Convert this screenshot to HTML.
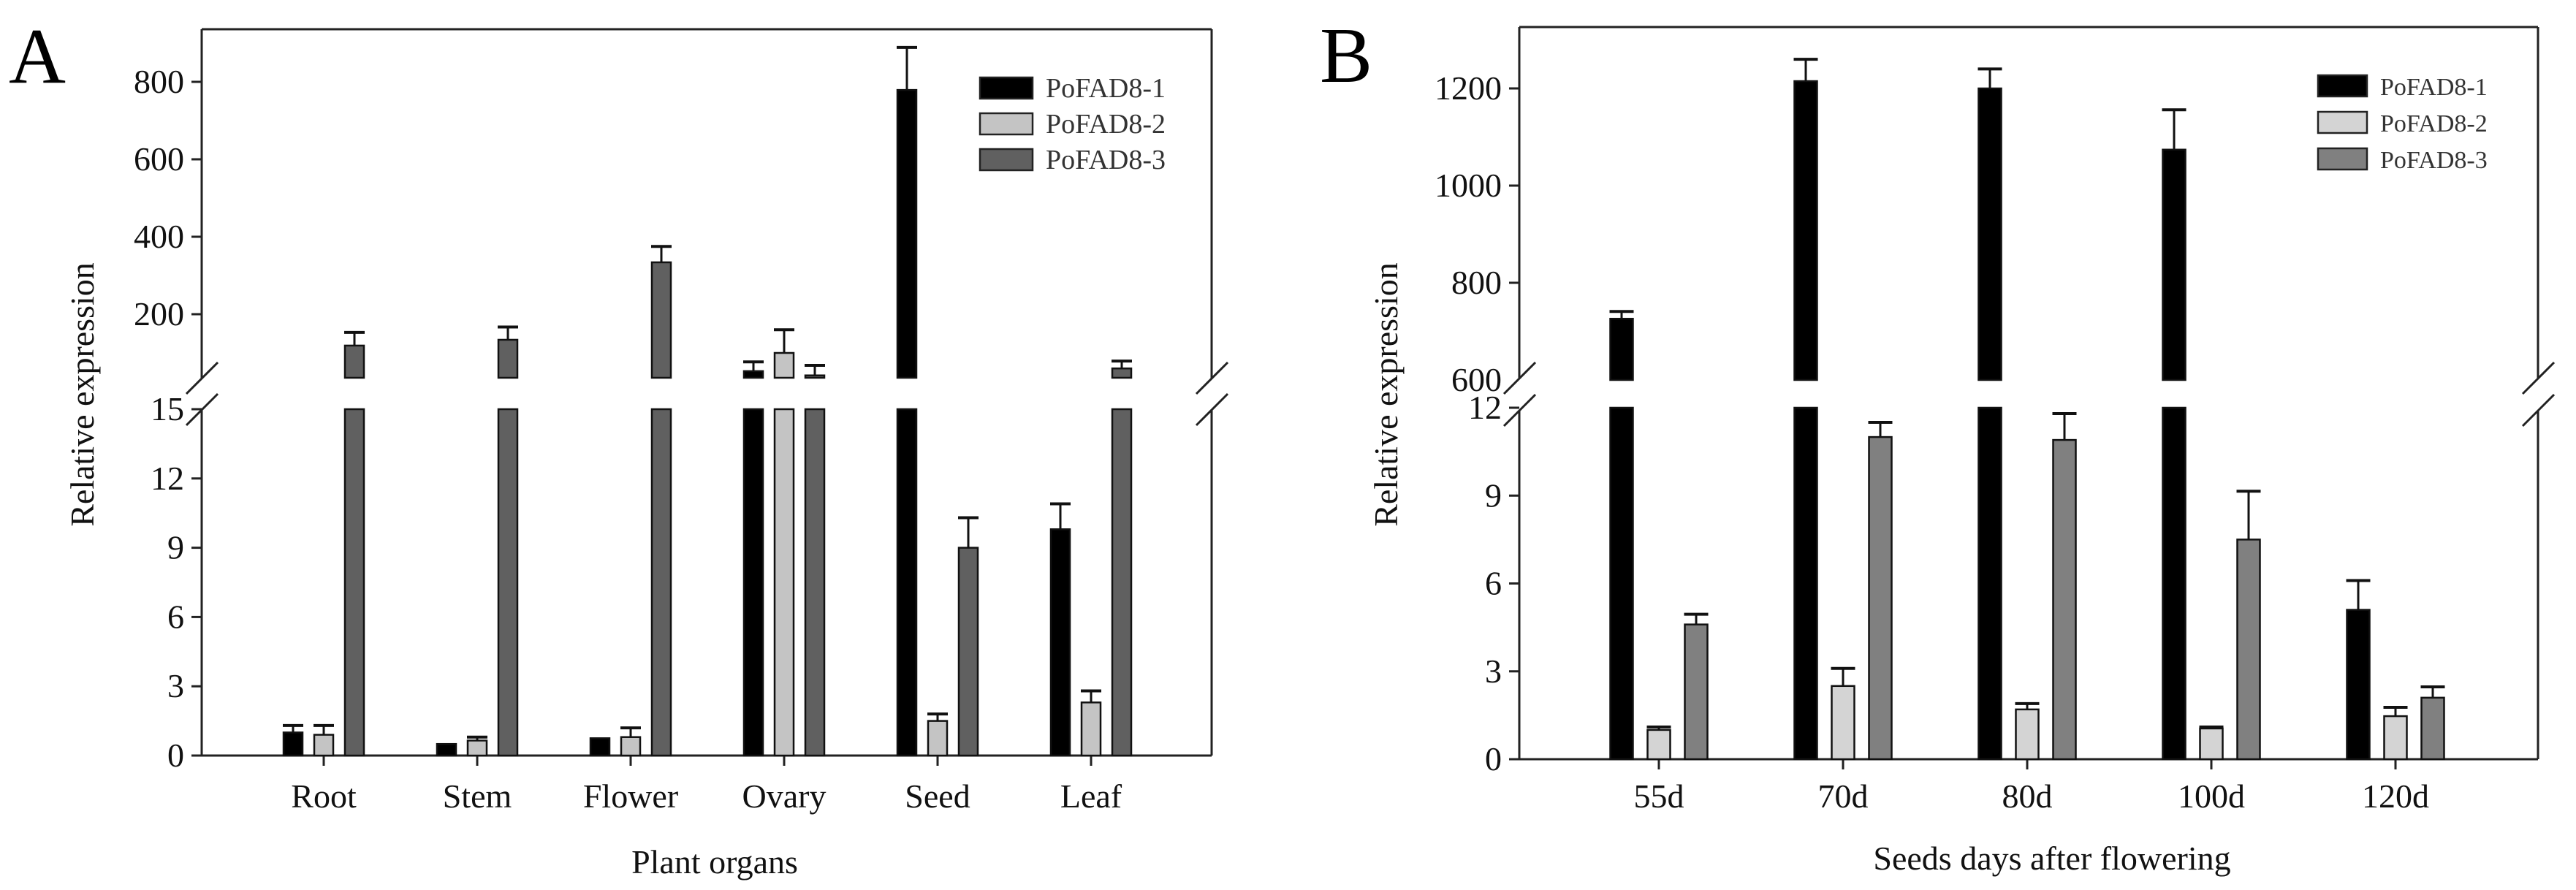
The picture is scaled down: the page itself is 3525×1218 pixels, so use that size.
<!DOCTYPE html>
<html><head><meta charset="utf-8"><style>
html,body{margin:0;padding:0;background:#fff;}
svg{display:block;font-family:"Liberation Serif",serif;}
</style></head><body>
<svg id="fig" width="3525" height="1218" viewBox="0 0 3525 1218" xmlns="http://www.w3.org/2000/svg"></svg>
<script>
// ---- Panel A data ----
const catsA = ["Root","Stem","Flower","Ovary","Seed","Leaf"];
const seriesNames = ["PoFAD8-1","PoFAD8-2","PoFAD8-3"];
const a1 = [1.0, 0.5, 0.75, 53, 779, 9.8];
const a1err = [1.3, 0.5, 0.75, 77, 889, 10.9];
const a2 = [0.9, 0.65, 0.8, 100, 1.5, 2.3];
const a2err = [1.3, 0.8, 1.2, 160, 1.8, 2.8];
const a3 = [119, 134, 334, 42, 9.0, 60];
const a3err = [153, 167, 375, 68, 10.3, 79];
const ticksAlow = [0,3,6,9,12,15];
const ticksAhigh = [200,400,600,800];
// ---- Panel B data ----
const catsB = ["55d","70d","80d","100d","120d"];
const b1 = [726, 1215, 1200, 1074, 5.1];
const b1err = [741, 1260, 1240, 1156, 6.1];
const b2 = [1.0, 2.5, 1.7, 1.05, 1.47];
const b2err = [1.1, 3.1, 1.9, 1.1, 1.77];
const b3 = [4.6, 11.0, 10.9, 7.5, 2.1];
const b3err = [4.95, 11.5, 11.8, 9.15, 2.47];
const ticksBlow = [0,3,6,9,12];
const ticksBhigh = [600,800,1000,1200];

const NS="http://www.w3.org/2000/svg";
const svg=document.getElementById('fig');
function mk(tag,attrs,parent){const e=document.createElementNS(NS,tag);for(const k in attrs)e.setAttribute(k,attrs[k]);(parent||svg).appendChild(e);return e;}
function txt(x,y,s,size,anchor,parent,extra){const t=mk('text',Object.assign({x:x,y:y,'font-size':size,'text-anchor':anchor||'middle',fill:'#111'},extra||{}),parent);t.textContent=s;return t;}

function panel(cfg){
  const g=mk('g',{});
  
  
  const L=cfg.left,R=cfg.right,T=cfg.top,B=cfg.bottom;
  // scales
  const yLow=v=>B-(v-cfg.lowMin)/(cfg.lowMax-cfg.lowMin)*(B-cfg.lowTop);
  const yHigh=v=>cfg.hZeroY-(v-cfg.hMin)*cfg.hScale;
  const isHigh=v=>v>cfg.lowMax;
  const xC=i=>cfg.x0+i*cfg.dx;
  // frame lines
  const fr=mk('g',{stroke:'#222','stroke-width':3,fill:'none'},g);
  
  
  mk('line',{x1:L,y1:T,x2:R,y2:T},fr);
  mk('line',{x1:L,y1:T,x2:L,y2:cfg.breakTop},fr);
  mk('line',{x1:L,y1:cfg.breakBot,x2:L,y2:B},fr);
  mk('line',{x1:R,y1:T,x2:R,y2:cfg.breakTop},fr);
  mk('line',{x1:R,y1:cfg.breakBot,x2:R,y2:B},fr);
  mk('line',{x1:L-14,y1:B,x2:R,y2:B},fr);
  // break marks
  [L,R].forEach(xx=>{
    const bm=mk('g',{stroke:'#222','stroke-width':3},g);
    
    
    mk('line',{x1:xx-21,y1:cfg.breakTop+22,x2:xx+22,y2:cfg.breakTop-21},bm);
    mk('line',{x1:xx-21,y1:cfg.breakBot+21,x2:xx+22,y2:cfg.breakBot-22},bm);
  });
  // y ticks
  cfg.ticksLow.forEach(v=>{const y=yLow(v);
    mk('line',{x1:L-14,y1:y,x2:L,y2:y,stroke:'#222','stroke-width':3},g);
    const t=txt(L-24,y+15,String(v),46,'end',g);
    
    
  });
  cfg.ticksHigh.forEach(v=>{const y=yHigh(v);
    if(v!==cfg.hMin) mk('line',{x1:L-14,y1:y,x2:L,y2:y,stroke:'#222','stroke-width':3},g);
    const t=txt(L-24,y+15,String(v),46,'end',g);
    
    
  });
  // x ticks & labels
  cfg.cats.forEach((c,i)=>{const x=xC(i);
    mk('line',{x1:x,y1:B,x2:x,y2:B+14,stroke:'#222','stroke-width':3},g);
    const t=txt(x,cfg.catY,c,46,'middle',g);
    
    
  });
  // bars
  const cols=cfg.colors;
  cfg.series.forEach((s,si)=>{
    s.vals.forEach((v,i)=>{
      const cx=xC(i)+(si-1)*cfg.off, w=cfg.bw, x=cx-w/2;
      const e=s.errs[i];
      const bar=mk('g',{},g);
      
      
      const st={fill:cols[si],stroke:'#111','stroke-width':2.5};
      if(isHigh(v)){
        mk('rect',Object.assign({x:x,y:cfg.lowTop,width:w,height:B-cfg.lowTop},st),bar);
        const yt=yHigh(v);
        mk('rect',Object.assign({x:x,y:yt,width:w,height:cfg.hBarBot-yt},st),bar);
        if(e>v){const ye=yHigh(e);
          mk('line',{x1:cx,y1:yt,x2:cx,y2:ye,stroke:'#111','stroke-width':3},bar);
          mk('line',{x1:cx-w/2-1,y1:ye,x2:cx+w/2+1,y2:ye,stroke:'#111','stroke-width':4},bar);}
      } else {
        const yt=yLow(v);
        mk('rect',Object.assign({x:x,y:yt,width:w,height:B-yt},st),bar);
        if(e>v){const ye=yLow(e);
          mk('line',{x1:cx,y1:yt,x2:cx,y2:ye,stroke:'#111','stroke-width':3},bar);
          mk('line',{x1:cx-w/2-1,y1:ye,x2:cx+w/2+1,y2:ye,stroke:'#111','stroke-width':4},bar);}
      }
    });
  });
  // legend
  const lg=mk('g',{},g);
  
  
  seriesNames.forEach((n,si)=>{
    const y=cfg.legY+si*cfg.legDy;
    const en=mk('g',{},lg);
    
    
    mk('rect',{x:cfg.legX,y:y,width:cfg.legW,height:29,fill:cols[si],stroke:'#222','stroke-width':2.5},en);
    txt(cfg.legX+cfg.legW+18,y+27,n,cfg.legFont,'start',en,{'fill':'#333'});
  });
  // titles
  const yt=txt(cfg.ytX,cfg.ytY,'Relative expression',46,'middle',g,{transform:'rotate(-90 '+cfg.ytX+' '+cfg.ytY+')'});
  
  
  const xt=txt(cfg.xtX,cfg.xtY,cfg.xTitle,46,'middle',g);
  
  
  const pl=txt(cfg.plX,cfg.plY,cfg.letter,108,'start',g,{fill:'#000'});
  
  
}

panel({name:'panel-a',letter:'A',plX:12,plY:113,left:276,right:1658,top:40,bottom:1034,
  breakTop:517,breakBot:561,lowMin:0,lowMax:15,lowTop:560,
  hMin:0,hZeroY:536,hScale:0.53,hBarBot:517,
  ticksLow:ticksAlow,ticksHigh:ticksAhigh,cats:catsA,x0:443,dx:210,off:42,bw:26,catY:1105,
  colors:['#000000','#c4c4c4','#606060'],
  series:[{vals:a1,errs:a1err},{vals:a2,errs:a2err},{vals:a3,errs:a3err}],
  legX:1341,legY:106,legDy:49,legW:72,legFont:38,
  ytX:128,ytY:540,xtX:978,xtY:1195,xTitle:'Plant organs'});

panel({name:'panel-b',letter:'B',plX:1806,plY:112,left:2079,right:3473,top:37,bottom:1039,
  breakTop:517,breakBot:562,lowMin:0,lowMax:12,lowTop:558,
  hMin:600,hZeroY:520,hScale:0.665,hBarBot:520,
  ticksLow:ticksBlow,ticksHigh:ticksBhigh,cats:catsB,x0:2270,dx:252,off:51,bw:31,catY:1105,
  colors:['#000000','#d4d4d4','#808080'],
  series:[{vals:b1,errs:b1err},{vals:b2,errs:b2err},{vals:b3,errs:b3err}],
  legX:3172,legY:103,legDy:50,legW:67,legFont:34,
  ytX:1912,ytY:540,xtX:2808,xtY:1190,xTitle:'Seeds days after flowering'});
</script>
</body></html>
